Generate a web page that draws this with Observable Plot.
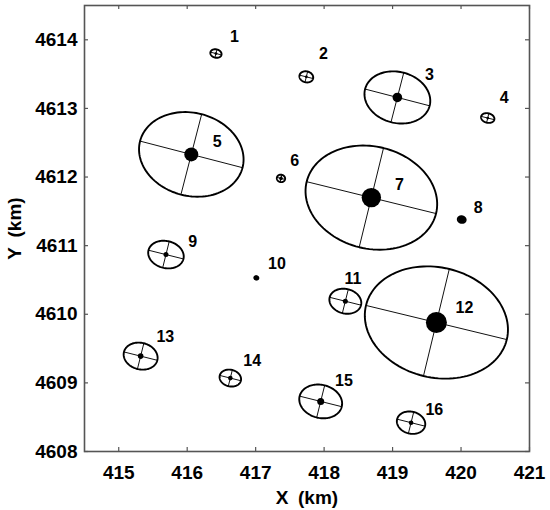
<!DOCTYPE html>
<html>
<head>
<meta charset="utf-8">
<script src="https://cdn.jsdelivr.net/npm/d3@7"></script>
<script src="https://cdn.jsdelivr.net/npm/@observablehq/plot@0.6"></script>
<style>
  html, body { margin: 0; padding: 0; background: #fff; }
  #chart { width: 550px; height: 510px; }
  svg { font-family: "Liberation Sans", Arial, sans-serif; }
</style>
</head>
<body>
<div id="chart"></div>
<script>
// ---- data (km) ----
const ids = [1, 2, 3, 4, 5, 6, 7, 8, 9, 10, 11, 12, 13, 14, 15, 16];
const xs = [416.42, 417.74, 419.07, 420.39, 416.06, 417.37, 418.69, 420.01, 415.69, 417.01, 418.31, 419.64, 415.32, 416.63, 417.95, 419.27];
const ys = [4613.80, 4613.46, 4613.16, 4612.86, 4612.33, 4611.98, 4611.70, 4611.38, 4610.87, 4610.53, 4610.19, 4609.88, 4609.39, 4609.07, 4608.73, 4608.42];
const semiMajor = [0.083, 0.102, 0.487, 0.099, 0.773, 0.061, 0.973, 0.058, 0.263, 0.030, 0.236, 1.058, 0.251, 0.159, 0.317, 0.210];
const semiMinor = [0.061, 0.080, 0.372, 0.069, 0.605, 0.054, 0.744, 0.048, 0.197, 0.024, 0.179, 0.802, 0.193, 0.121, 0.241, 0.160];
const tiltDeg = [-14, -14, -14.5, -14, -14.5, -14, -13.8, -14, -14, -14, -14, -13.6, -14, -14, -14, -14];
const dotSize = [1.4, 1.4, 4.8, 1.4, 7, 1.8, 9.7, 3.4, 2.5, 2.3, 2.5, 10.5, 2.8, 2.3, 3.5, 2.3];
const labelX = [416.69, 417.99, 419.54, 420.63, 416.44, 417.57, 419.10, 420.25, 416.08, 417.31, 418.42, 420.05, 415.68, 416.95, 418.29, 419.61];
const labelY = [4614.05, 4613.79, 4613.49, 4613.15, 4612.51, 4612.24, 4611.88, 4611.55, 4611.06, 4610.73, 4610.51, 4610.09, 4609.67, 4609.32, 4609.03, 4608.60];
const xTicks = [415, 416, 417, 418, 419, 420, 421];
const yTicks = [4608, 4609, 4610, 4611, 4612, 4613, 4614];
const xDomain = [414.5, 421];
const yDomain = [4608, 4614.5];

// ---- derived tables ----
const points = ids.map((id, i) => ({
  id, x: xs[i], y: ys[i], a: semiMajor[i], b: semiMinor[i],
  phi: tiltDeg[i] * Math.PI / 180, r: dotSize[i], lx: labelX[i], ly: labelY[i]
}));

const ellipsePts = [];
for (const p of points) {
  const c = Math.cos(p.phi), s = Math.sin(p.phi);
  for (let k = 0; k <= 120; k++) {
    const t = (k / 120) * 2 * Math.PI;
    const u = p.a * Math.cos(t), v = p.b * Math.sin(t);
    ellipsePts.push({ id: p.id, x: p.x + u * c - v * s, y: p.y + u * s + v * c });
  }
}

const cross = [];
for (const p of points) {
  const c = Math.cos(p.phi), s = Math.sin(p.phi);
  cross.push({ x1: p.x - p.a * c, y1: p.y - p.a * s, x2: p.x + p.a * c, y2: p.y + p.a * s });
  cross.push({ x1: p.x + p.b * s, y1: p.y - p.b * c, x2: p.x - p.b * s, y2: p.y + p.b * c });
}

const W = 550, H = 510, mL = 84, mR = 21, mT = 5, mB = 59;
const innerW = W - mL - mR, innerH = H - mT - mB;
const tickLen = 4;

const chart = Plot.plot({
  width: W,
  height: H,
  marginLeft: mL,
  marginRight: mR,
  marginTop: mT,
  marginBottom: mB,
  style: { fontFamily: '"Liberation Sans", Arial, sans-serif', background: "#fff", color: "#000" },
  x: { domain: xDomain },
  y: { domain: yDomain },
  r: { type: "identity" },
  marks: [
    // inward ticks on all four sides
    Plot.tickX(xTicks, { x: d => d, insetTop: innerH - tickLen, stroke: "#555", strokeWidth: 1.2 }),
    Plot.tickX(xTicks, { x: d => d, insetBottom: innerH - tickLen, stroke: "#555", strokeWidth: 1.2 }),
    Plot.tickY(yTicks, { y: d => d, insetRight: innerW - tickLen, stroke: "#555", strokeWidth: 1.2 }),
    Plot.tickY(yTicks, { y: d => d, insetLeft: innerW - tickLen, stroke: "#555", strokeWidth: 1.2 }),
    Plot.frame({ stroke: "#555", strokeWidth: 1.6 }),
    Plot.axisX(xTicks, {
      anchor: "bottom", tickSize: 0, tickPadding: 14, tickFormat: "d",
      fontSize: 19, fontWeight: "bold",
      label: "X\u2002(km)", labelAnchor: "center", labelOffset: 52, labelArrow: "none"
    }),
    Plot.axisY(yTicks, {
      anchor: "left", tickSize: 0, tickPadding: 7, tickFormat: "d",
      fontSize: 19, fontWeight: "bold",
      label: "Y\u2002(km)", labelAnchor: "center", labelOffset: 77, labelArrow: "none"
    }),
    Plot.link(cross, { x1: "x1", y1: "y1", x2: "x2", y2: "y2", stroke: "#111", strokeWidth: 1 }),
    Plot.line(ellipsePts, { x: "x", y: "y", z: "id", stroke: "#000", strokeWidth: 1.9 }),
    Plot.dot(points, { x: "x", y: "y", r: "r", fill: "#000", stroke: "none" }),
    Plot.text(points, { x: "lx", y: "ly", text: d => String(d.id), fontSize: 16, fontWeight: "bold", fill: "#000" })
  ]
});

document.getElementById("chart").appendChild(chart);
</script>
</body>
</html>
